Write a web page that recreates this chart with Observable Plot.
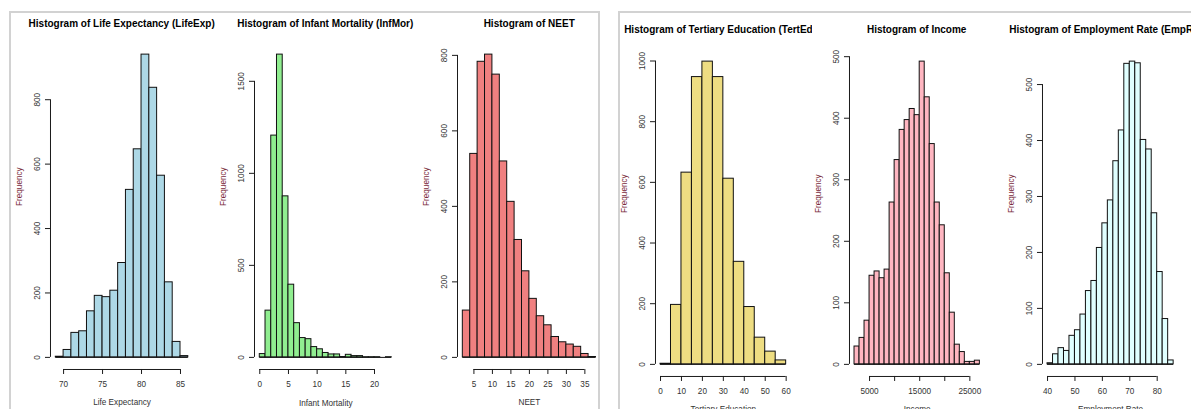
<!DOCTYPE html>
<html>
<head>
<meta charset="utf-8">
<script src="https://cdn.jsdelivr.net/npm/d3@7"></script>
<script src="https://cdn.jsdelivr.net/npm/@observablehq/plot@0.6"></script>
<style>
  html, body { margin: 0; padding: 0; background: #fff; }
  body { width: 1191px; height: 409px; overflow: hidden; position: relative; font-family: "Liberation Sans", Arial, sans-serif; }
  .panel { position: absolute; box-sizing: border-box; border: 2px solid #d2d2d2; height: 600px; z-index: 5; pointer-events: none; }
  .titlewrap { position: absolute; overflow: hidden; height: 14px; }
  .title { position: absolute; top: 0; transform: translateX(-50%); white-space: nowrap; font: bold 10px "Liberation Sans", Arial, sans-serif; line-height: 12px; color: #000; }
  svg.chart { position: absolute; overflow: visible; background: transparent; }
</style>
</head>
<body>
<div class="panel" style="left:9px; top:11px; width:591px;"></div>
<div class="panel" style="left:618px; top:11px; width:700px;"></div>
<script>
// ---------- data ----------
const lifeExpBreaks = [69,70,71,72,73,74,75,76,77,78,79,80,81,82,83,84,85,86];
const lifeExpCounts = [2,23,76,81,143,191,187,207,293,520,646,940,837,564,233,48,4];

const infMorBreaks = [0,1,2,3,4,5,6,7,8,9,10,11,12,13,14,15,16,17,18,19,20,21,22,23];
const infMorCounts = [18,254,1205,1645,875,395,186,105,99,56,44,24,16,16,2,14,7,7,1,1,1,0,1];

const neetBreaks = [2,4,6,8,10,12,14,16,18,20,22,24,26,28,30,32,34,36,38];
const neetCounts = [124,539,783,802,749,519,412,311,228,155,109,85,54,40,34,28,9,1];

const tertEduBreaks = [0,5,10,15,20,25,30,35,40,45,50,55,60];
const tertEduCounts = [2,196,632,947,998,947,612,338,189,88,42,13];

const incomeBreaks = [2000,3000,4000,5000,6000,7000,8000,9000,10000,11000,12000,13000,14000,15000,16000,17000,18000,19000,20000,21000,22000,23000,24000,25000,26000,27000];
const incomeCounts = [29,43,71,144,151,140,154,263,332,381,397,415,405,492,434,358,263,226,148,84,32,20,4,4,6];

const empRateBreaks = [40,42,44,46,48,50,52,54,56,58,60,62,64,66,68,70,72,74,76,78,80,82,84,86];
const empRateCounts = [2,18,29,24,51,61,89,131,149,208,252,293,363,418,537,541,538,401,384,270,165,81,7];

const titles = [
  "Histogram of Life Expectancy (LifeExp)",
  "Histogram of Infant Mortality (InfMor)",
  "Histogram of NEET",
  "Histogram of Tertiary Education (TertEdu)",
  "Histogram of Income",
  "Histogram of Employment Rate (EmpRate)"
];
const xLabels = ["Life Expectancy","Infant Mortality","NEET","Tertiary Education","Income","Employment Rate"];
const yLabel = "Frequency";

const lifeExpXTicks = [70,75,80,85];
const infMorXTicks = [0,5,10,15,20];
const neetXTicks = [5,10,15,20,25,30,35];
const tertEduXTicks = [0,10,20,30,40,50,60];
const incomeXTicks = [5000,10000,15000,20000,25000];
const incomeXTickLabels = ["5000","","15000","","25000"];
const empRateXTicks = [40,50,60,70,80];

const lifeExpYTicks = [0,200,400,600,800];
const infMorYTicks = [0,500,1000,1500];
const neetYTicks = [0,200,400,600,800];
const tertEduYTicks = [0,200,400,600,800,1000];
const incomeYTicks = [0,100,200,300,400,500];
const empRateYTicks = [0,100,200,300,400,500];

const fills = ["#ADD8E6","#90EE90","#F08080","#EEDD82","#FFB6C1","#E0FFFF"];

// ---------- layout ----------
const charts = [
  {breaks: lifeExpBreaks, counts: lifeExpCounts, xTicks: lifeExpXTicks, yTicks: lifeExpYTicks, left: 50.1, top: 42, w: 143.1, clipR: 1191},
  {breaks: infMorBreaks, counts: infMorCounts, xTicks: infMorXTicks, yTicks: infMorYTicks, left: 254, top: 42, w: 142.5, clipR: 1191},
  {breaks: neetBreaks, counts: neetCounts, xTicks: neetXTicks, yTicks: neetYTicks, left: 457.3, top: 42, w: 143.8, clipR: 1191},
  {breaks: tertEduBreaks, counts: tertEduCounts, xTicks: tertEduXTicks, yTicks: tertEduYTicks, left: 655.3, top: 48.5, w: 135.7, clipR: 812},
  {breaks: incomeBreaks, counts: incomeCounts, xTicks: incomeXTicks, xTickLabels: incomeXTickLabels, yTicks: incomeYTicks, left: 849, top: 48.5, w: 135.4, clipR: 1191},
  {breaks: empRateBreaks, counts: empRateCounts, xTicks: empRateXTicks, yTicks: empRateYTicks, left: 1042, top: 48.5, w: 136.2, clipR: 1191}
];
const plotH = 327;
const mL = 45, mR = 12, mT = 4, mB = 48;

charts.forEach((c, k) => {
  const bins = c.counts.map((n, i) => ({x1: c.breaks[i], x2: c.breaks[i + 1], count: n}));
  const lo = c.breaks[0], hi = c.breaks[c.breaks.length - 1], r = hi - lo;
  const ymax = d3.max(c.counts);
  const xlo = lo - 0.04 * r, xhi = hi + 0.04 * r;
  const ylo = -0.04 * ymax, yhi = 1.04 * ymax;
  const labelMap = c.xTickLabels ? new Map(c.xTicks.map((t, i) => [t, c.xTickLabels[i]])) : null;
  const svg = Plot.plot({
    width: mL + c.w + mR,
    height: mT + plotH + mB,
    marginLeft: mL, marginRight: mR, marginTop: mT, marginBottom: mB,
    x: {domain: [xlo, xhi]},
    y: {domain: [ylo, yhi]},
    style: {fontFamily: "'Liberation Sans', Arial, sans-serif", fontSize: "8.2px", color: "#333", background: "transparent"},
    marks: [
      Plot.rectY(bins, {x1: "x1", x2: "x2", y: "count", fill: fills[k], stroke: "#111", strokeWidth: 1}),
      Plot.ruleY([0], {x1: lo, x2: hi, stroke: "#111", strokeWidth: 1}),
      Plot.axisX({ticks: c.xTicks, tickSize: 5, tickPadding: 7, label: null, anchor: "bottom", stroke: "#1a1a1a",
        tickFormat: labelMap ? (d => labelMap.get(d)) : (d => String(d))}),
      Plot.ruleY([ylo], {x1: c.xTicks[0], x2: c.xTicks[c.xTicks.length - 1], stroke: "#1a1a1a"}),
      Plot.axisY({ticks: c.yTicks, tickSize: 5, tickRotate: -90, tickPadding: 5.5, label: null, anchor: "left", stroke: "#1a1a1a",
        tickFormat: d => String(d)}),
      Plot.ruleX([xlo], {y1: c.yTicks[0], y2: c.yTicks[c.yTicks.length - 1], stroke: "#1a1a1a"}),
      Plot.text([xLabels[k]], {frameAnchor: "bottom", dy: 36, text: d => d, fill: "#333"}),
      Plot.text([yLabel], {frameAnchor: "left", dx: -31, rotate: -90, text: d => d, fill: "#7a2a3c"})
    ]
  });
  svg.classList.add("chart");
  svg.style.left = (c.left - mL) + "px";
  svg.style.top = (c.top - mT) + "px";
  document.body.appendChild(svg);

  // title, centred over the plot region and clipped at the next figure
  const center = c.left + c.w / 2;
  const wrapLeft = center - 150;
  const wrap = document.createElement("div");
  wrap.className = "titlewrap";
  wrap.style.left = wrapLeft + "px";
  wrap.style.width = (c.clipR - wrapLeft) + "px";
  wrap.style.top = (c.top - 24.2) + "px";
  const t = document.createElement("div");
  t.className = "title";
  t.style.left = "150px";
  t.textContent = titles[k];
  wrap.appendChild(t);
  document.body.appendChild(wrap);
});
</script>
</body>
</html>
